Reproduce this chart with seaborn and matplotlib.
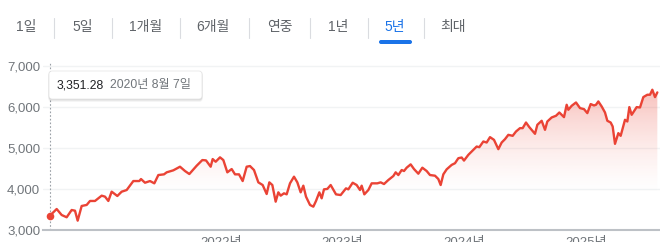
import numpy as np
import pandas as pd
import matplotlib
matplotlib.use("Agg")
import matplotlib.pyplot as plt
import matplotlib.dates as mdates
import seaborn as sns
from matplotlib.patches import FancyBboxPatch
from matplotlib.lines import Line2D
from matplotlib.transforms import IdentityTransform
from matplotlib.colors import to_rgb

# ---------------- data ----------------
start_date = "2020-08-07"
day_offsets = [0, 20, 35, 50, 65, 75, 83, 95, 110, 120, 135, 155, 165, 175, 185, 202, 215, 230,
               250, 268, 273, 285, 300, 313, 325, 342, 350, 370, 390, 405, 418, 440, 457, 468,
               482, 488, 497, 510, 520, 532, 545, 555, 567, 578, 590, 600, 612, 625, 638, 650,
               658, 667, 677, 685, 692, 702, 710, 720, 732, 742, 752, 760, 768, 780, 790, 798,
               808, 815, 822, 832, 842, 858, 872, 888, 895, 908, 920, 930, 935, 943, 955, 965,
               982, 992, 1002, 1015, 1030, 1037, 1045, 1055, 1062, 1070, 1082, 1092, 1105, 1117,
               1130, 1140, 1155, 1165, 1172, 1180, 1190, 1205, 1215, 1225, 1235, 1242, 1255,
               1270, 1280, 1288, 1300, 1310, 1320, 1332, 1345, 1355, 1365, 1375, 1388, 1398,
               1410, 1418, 1428, 1438, 1455, 1462, 1475, 1485, 1492, 1505, 1518, 1528, 1542,
               1550, 1555, 1565, 1578, 1590, 1602, 1612, 1622, 1632, 1638, 1645, 1655, 1665,
               1672, 1682, 1688, 1695, 1705, 1712, 1725, 1732, 1738, 1745, 1760, 1770, 1780,
               1792, 1800, 1807, 1815, 1822]
prices = [3351, 3511, 3365, 3310, 3487, 3470, 3227, 3585, 3610, 3707, 3707, 3836, 3812, 3707,
          3933, 3828, 3933, 3973, 4192, 4192, 4241, 4151, 4192, 4136, 4338, 4355, 4404, 4453,
          4541, 4436, 4363, 4565, 4703, 4695, 4541, 4727, 4662, 4769, 4703, 4404, 4484, 4355,
          4355, 4192, 4541, 4557, 4460, 4160, 4095, 3876, 4160, 4095, 3690, 3917, 3836, 3893,
          3868, 4136, 4298, 4160, 3917, 4079, 3812, 3610, 3568, 3707, 3917, 3771, 3990, 4000,
          4095, 3868, 3851, 4014, 3990, 4151, 4095, 3973, 4079, 3868, 3973, 4136, 4136, 4160,
          4119, 4217, 4314, 4404, 4338, 4460, 4436, 4517, 4598, 4484, 4371, 4517, 4436, 4338,
          4322, 4241, 4095, 4355, 4477, 4585, 4626, 4748, 4765, 4690, 4830, 4951, 5032, 5017,
          5155, 5130, 5261, 5195, 4968, 5130, 5212, 5317, 5293, 5398, 5480, 5480, 5617, 5504,
          5342, 5561, 5659, 5439, 5642, 5740, 5781, 5861, 5748, 6049, 5927, 6024, 6105, 5968,
          5943, 5846, 6066, 6032, 6049, 6130, 6008, 5861, 5659, 5617, 5520, 5098, 5358, 5293,
          5683, 5642, 5992, 5805, 5992, 5983, 6236, 6293, 6293, 6415, 6236, 6350]

year_ticks = ["2022-01-01", "2023-01-01", "2024-01-01", "2025-01-01"]
year_labels = ["2022년", "2023년", "2024년", "2025년"]
y_ticks = [3000, 4000, 5000, 6000, 7000]
y_labels = ["3,000", "4,000", "5,000", "6,000", "7,000"]
tabs = ["1일", "5일", "1개월", "6개월", "연중", "1년", "5년", "최대"]
active_tab = "5년"
tooltip_value = "3,351.28"
tooltip_date = "2020년 8월 7일"

# ---------------- style ----------------
sns.set_style("white")
plt.rcParams['font.family'] = ['Liberation Sans', 'Noto Sans CJK KR', 'DejaVu Sans']

RED = "#ea4335"
GRAY_TXT = "#70757a"
W, H = 660, 242

fig = plt.figure(figsize=(W / 100, H / 100), dpi=100)
fig.patch.set_facecolor("white")

ax_left, ax_right, ax_bottom_px, ax_top_px = 43, 660, 230, 61.6
ax = fig.add_axes([ax_left / W, (H - ax_bottom_px) / H,
                   (ax_right - ax_left) / W, (ax_bottom_px - ax_top_px) / H])

df = pd.DataFrame({
    "date": pd.Timestamp(start_date) + pd.to_timedelta(day_offsets, unit="D"),
    "price": prices,
})

x0 = pd.Timestamp(start_date) - pd.Timedelta(days=21)
x1 = pd.Timestamp(start_date) + pd.Timedelta(days=1830)
ymin, ymax = 3000, 7100

# gradient fill under the line (fades out toward the bottom)
poly = ax.fill_between(df["date"], df["price"], ymin, color="none", lw=0)
yy = np.linspace(ymin, ymax, 256)
alpha = np.clip((yy - 3800) / 3200, 0, 1) ** 1.5 * 0.45
rgba = np.zeros((256, 1, 4))
rgba[..., :3] = to_rgb(RED)
rgba[:, 0, 3] = alpha
im = ax.imshow(rgba, extent=[mdates.date2num(x0), mdates.date2num(x1), ymin, ymax],
               origin="lower", aspect="auto", zorder=1, interpolation="bilinear")
im.set_clip_path(poly.get_paths()[0], transform=ax.transData)

sns.lineplot(data=df, x="date", y="price", color=RED, lw=1.7, ax=ax, zorder=3)
ax.scatter(df["date"].iloc[:1], df["price"].iloc[:1], s=30, color=RED, zorder=4, lw=0)
ax.axvline(df["date"].iloc[0], color="#9aa0a6", lw=0.8, ls=(0, (1.5, 1.8)), zorder=2)

ax.set_xlim(x0, x1)
ax.set_ylim(ymin, ymax)
ax.set_aspect("auto")

ax.set_yticks(y_ticks)
ax.set_yticklabels(y_labels)
ax.set_xticks(pd.to_datetime(year_ticks))
ax.set_xticklabels(year_labels)
ax.set_xlabel("")
ax.set_ylabel("")
ax.grid(axis="y", color="#f1f3f4", lw=1.0, zorder=0)
ax.grid(axis="x", visible=False)
ax.tick_params(axis="y", length=0, pad=2, labelsize=9.5, labelcolor=GRAY_TXT)
ax.tick_params(axis="x", length=3.6, width=0.8, color="#9aa0a6", pad=1.5,
               labelsize=9.5, labelcolor=GRAY_TXT)
for s in ["top", "right", "left"]:
    ax.spines[s].set_visible(False)
ax.spines["bottom"].set_color("#bdc1c6")
ax.spines["bottom"].set_linewidth(1.5)
ax.set_axisbelow(True)

# ---------------- tab bar ----------------
tab_centers = [26, 83, 146, 213, 280, 338, 395, 453]
sep_x = [54, 112, 180, 249, 310, 368, 424]
for cx, label in zip(tab_centers, tabs):
    fig.text(cx / W, 1 - 26.5 / H, label, ha="center", va="center", fontsize=10,
             color="#1a73e8" if label == active_tab else "#5f6368")
for sx in sep_x:
    fig.add_artist(Line2D([sx / W, sx / W], [1 - 18 / H, 1 - 38 / H],
                          transform=fig.transFigure, color="#dadce0", lw=0.8))
fig.add_artist(FancyBboxPatch((379, H - 44), 33, 4,
                              boxstyle="round,pad=0,rounding_size=2",
                              transform=IdentityTransform(), color="#1a73e8", lw=0))

# ---------------- tooltip ----------------
bx, by_top, bw, bh = 49, 71, 153, 28
for i, a in enumerate([0.05, 0.05, 0.04]):
    fig.add_artist(FancyBboxPatch((bx - 0.5, H - by_top - bh - 1 - i), bw + 1, bh + 1,
                                  boxstyle="round,pad=0,rounding_size=3",
                                  transform=IdentityTransform(), facecolor="black",
                                  alpha=a, lw=0))
fig.add_artist(FancyBboxPatch((bx, H - by_top - bh), bw, bh,
                              boxstyle="round,pad=0,rounding_size=3",
                              transform=IdentityTransform(), facecolor="white",
                              edgecolor="#e3e3e3", lw=0.5))
fig.text(57 / W, 1 - 85 / H, tooltip_value, ha="left", va="center", fontsize=8.7,
         color="#202124")
fig.text(110 / W, 1 - 85 / H, tooltip_date, ha="left", va="center", fontsize=8.7,
         color=GRAY_TXT)

fig.savefig("out.png", dpi=100, facecolor="white")
